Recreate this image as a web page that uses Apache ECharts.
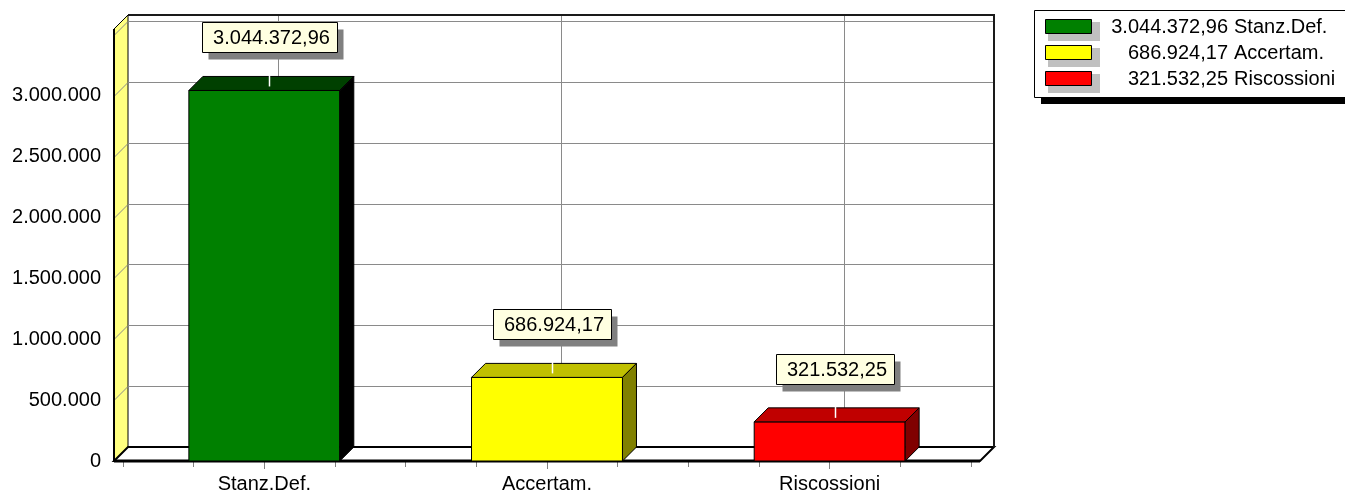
<!DOCTYPE html>
<html>
<head>
<meta charset="utf-8">
<script src="https://cdn.jsdelivr.net/npm/echarts@6/dist/echarts.min.js"></script>
<style>
  html, body { margin: 0; padding: 0; background: #ffffff; }
  #chart { width: 1345px; height: 494px; }
</style>
</head>
<body>
<div id="chart"></div>
<script>
// Budget figures per voce
const categories = ['Stanz.Def.', 'Accertam.', 'Riscossioni'];
const values = [3044372.96, 686924.17, 321532.25];

// Face colours of each 3D bar
const frontColors = ['#008000', '#ffff00', '#ff0000'];
const topColors = ['#004000', '#c0c000', '#c00000'];
const sideColors = ['#000000', '#808000', '#800000'];

// Value axis ticks
const yTicks = [0, 500000, 1000000, 1500000, 2000000, 2500000, 3000000, 3500000];

const FONT = 'Liberation Sans';
const DEPTH = 14;        // depth of the 3D box, px
const PAD_X = 9;         // floor / wall overhang beyond the category band
const PAD_TOP = 6;       // wall height above the top tick
const BAR_RATIO = 0.534; // bar width as share of the category band

// Italian number format: 3.044.372,96
function fmtIt(v, dec) {
  const parts = Number(v).toFixed(dec).split('.');
  const intPart = parts[0].replace(/\B(?=(\d{3})+(?!\d))/g, '.');
  return dec ? intPart + ',' + parts[1] : intPart;
}

const measureCtx = document.createElement('canvas').getContext('2d');
function textWidth(s, size) {
  measureCtx.font = size + 'px "' + FONT + '"';
  return measureCtx.measureText(s).width;
}

// Back wall, left wall, floor and their grid lines
function renderWalls(params, api) {
  const cs = params.coordSys;
  const x0 = cs.x - PAD_X, x1 = cs.x + cs.width + PAD_X;
  const yT = cs.y - PAD_TOP, yB = cs.y + cs.height;
  const dx = DEPTH, dy = -DEPTH;
  const grid = { stroke: '#8a8a8a', lineWidth: 1, fill: null };
  const children = [];

  children.push({ type: 'rect', shape: { x: x0 + dx, y: yT + dy, width: x1 - x0, height: yB - yT },
    style: { fill: '#ffffff' } });
  children.push({ type: 'polygon',
    shape: { points: [[x0, yT], [x0 + dx, yT + dy], [x0 + dx, yB + dy], [x0, yB]] },
    style: { fill: '#ffff80', stroke: '#000000', lineWidth: 1 } });

  yTicks.forEach(function (v) {
    if (v === yTicks[0]) return;
    const y = Math.round(api.coord([0, v])[1]) + 0.5;
    children.push({ type: 'polyline',
      shape: { points: [[x0, y], [x0 + dx, y + dy], [x1 + dx, y + dy]] }, style: grid });
  });
  categories.forEach(function (c, i) {
    const x = Math.round(api.coord([i, 0])[0] + dx) + 0.5;
    children.push({ type: 'line', shape: { x1: x, y1: yT + dy, x2: x, y2: yB + dy }, style: grid });
  });

  children.push({ type: 'polygon',
    shape: { points: [[x0, yB], [x0 + dx, yB + dy], [x1 + dx, yB + dy], [x1, yB]] },
    style: { fill: '#ffffff', stroke: '#000000', lineWidth: 2 } });
  children.push({ type: 'polyline',
    shape: { points: [[x0 + dx, yT + dy], [x1 + dx, yT + dy], [x1 + dx, yB + dy]] },
    style: { fill: null, stroke: '#1a1a1a', lineWidth: 2 } });
  children.push({ type: 'line', shape: { x1: x0, y1: yT, x2: x0, y2: yB },
    style: { stroke: '#000000', lineWidth: 2 } });
  children.push({ type: 'line', shape: { x1: x0, y1: yB, x2: x1, y2: yB },
    style: { stroke: '#000000', lineWidth: 3 } });

  return { type: 'group', children: children };
}

// One 3D bar with its value callout
function renderBar(params, api) {
  const i = api.value(0), v = api.value(1);
  const top = api.coord([i, v]);
  const base = api.coord([i, 0]);
  const bw = api.size([1, 0])[0] * BAR_RATIO;
  const xl = top[0] - bw / 2, xr = top[0] + bw / 2;
  const yt = top[1], yb = base[1];
  const dx = DEPTH, dy = -DEPTH;
  const edge = { stroke: '#000000', lineWidth: 1 };

  const text = fmtIt(v, 2);
  const tw = textWidth(text, 20);
  const boxW = Math.round(tw + 18), boxH = 30;
  const cx = top[0] + 5;
  const boxBottom = yt - 38;
  const boxX = Math.round(cx - boxW / 2) + 0.5, boxY = Math.round(boxBottom - boxH) + 0.5;

  return { type: 'group', children: [
    { type: 'rect', shape: { x: xl, y: yt, width: bw, height: yb - yt },
      style: Object.assign({ fill: frontColors[i] }, edge) },
    { type: 'polygon', shape: { points: [[xl, yt], [xl + dx, yt + dy], [xr + dx, yt + dy], [xr, yt]] },
      style: Object.assign({ fill: topColors[i] }, edge) },
    { type: 'polygon', shape: { points: [[xr, yt], [xr + dx, yt + dy], [xr + dx, yb + dy], [xr, yb]] },
      style: Object.assign({ fill: sideColors[i] }, edge) },
    { type: 'line', shape: { x1: Math.round(cx) + 0.5, y1: boxBottom, x2: Math.round(cx) + 0.5, y2: yt - 4 },
      style: { stroke: '#ffffff', lineWidth: 1.5 } },
    { type: 'rect', shape: { x: boxX + 6, y: boxY + 7, width: boxW, height: boxH },
      style: { fill: '#808080' } },
    { type: 'rect', shape: { x: boxX, y: boxY, width: boxW, height: boxH },
      style: { fill: '#ffffe1', stroke: '#000000', lineWidth: 1 } },
    { type: 'text', style: { text: text, x: boxX + boxW / 2 + 1.5, y: boxY + boxH / 2 + 0.5,
      fill: '#000000', fontSize: 20, fontFamily: FONT, align: 'center', verticalAlign: 'middle' } }
  ] };
}

// Legend box: value and name per row
function legendGraphics() {
  const left = 1034, topY = 10, rowH = 26;
  const els = [
    { type: 'rect', shape: { x: left + 7, y: topY + 7, width: 330, height: 87 }, style: { fill: '#000000' } },
    { type: 'rect', shape: { x: left + 0.5, y: topY + 0.5, width: 330, height: 87 },
      style: { fill: '#ffffff', stroke: '#000000', lineWidth: 1 } }
  ];
  categories.forEach(function (name, i) {
    const sy = topY + 9 + i * rowH;
    els.push({ type: 'rect', shape: { x: left + 14, y: sy + 3, width: 52, height: 19 }, style: { fill: '#c0c0c0' } });
    els.push({ type: 'rect', shape: { x: left + 11.5, y: sy + 0.5, width: 46, height: 14 },
      style: { fill: frontColors[i], stroke: '#000000', lineWidth: 1 } });
    els.push({ type: 'text', style: { text: fmtIt(values[i], 2), x: left + 194, y: sy + 8,
      fill: '#000000', fontSize: 20, fontFamily: FONT, align: 'right', verticalAlign: 'middle' } });
    els.push({ type: 'text', style: { text: name, x: left + 200, y: sy + 8,
      fill: '#000000', fontSize: 20, fontFamily: FONT, align: 'left', verticalAlign: 'middle' } });
  });
  return els;
}

const chart = echarts.init(document.getElementById('chart'), null, { renderer: 'canvas' });
chart.setOption({
  animation: false,
  backgroundColor: '#ffffff',
  textStyle: { fontFamily: FONT },
  grid: { left: 123, right: 374, top: 35, bottom: 33, containLabel: false },
  xAxis: [
    {
      type: 'category', data: categories, position: 'bottom',
      axisLine: { show: false },
      axisTick: { show: true, alignWithLabel: true, length: 8, lineStyle: { color: '#808080' } },
      axisLabel: { fontSize: 20, color: '#000000', margin: 13, fontFamily: FONT },
      splitLine: { show: false }
    },
    {
      type: 'value', position: 'bottom', min: -0.5, max: 2.5, interval: 0.25,
      axisLine: { show: false },
      axisTick: { show: true, length: 6, lineStyle: { color: '#808080' } },
      axisLabel: { show: false },
      splitLine: { show: false }
    }
  ],
  yAxis: {
    type: 'value',
    min: yTicks[0], max: yTicks[yTicks.length - 1], interval: yTicks[1] - yTicks[0],
    offset: PAD_X,
    axisLine: { show: false },
    axisTick: { show: true, length: 8, lineStyle: { color: '#808080' } },
    minorTick: { show: true, splitNumber: 4, length: 5, lineStyle: { color: '#808080' } },
    axisLabel: { fontSize: 20, color: '#000000', margin: 13, fontFamily: FONT, showMaxLabel: false,
      formatter: function (v) { return fmtIt(v, 0); } },
    splitLine: { show: false }
  },
  series: [
    { type: 'custom', name: 'pareti', clip: false, z: 1, silent: true,
      data: [[0, 0]], renderItem: renderWalls },
    { type: 'custom', name: 'importi', clip: false, z: 2,
      data: values.map(function (v, i) { return [i, v]; }),
      encode: { x: 0, y: 1 }, renderItem: renderBar }
  ],
  graphic: legendGraphics()
});
</script>
</body>
</html>
